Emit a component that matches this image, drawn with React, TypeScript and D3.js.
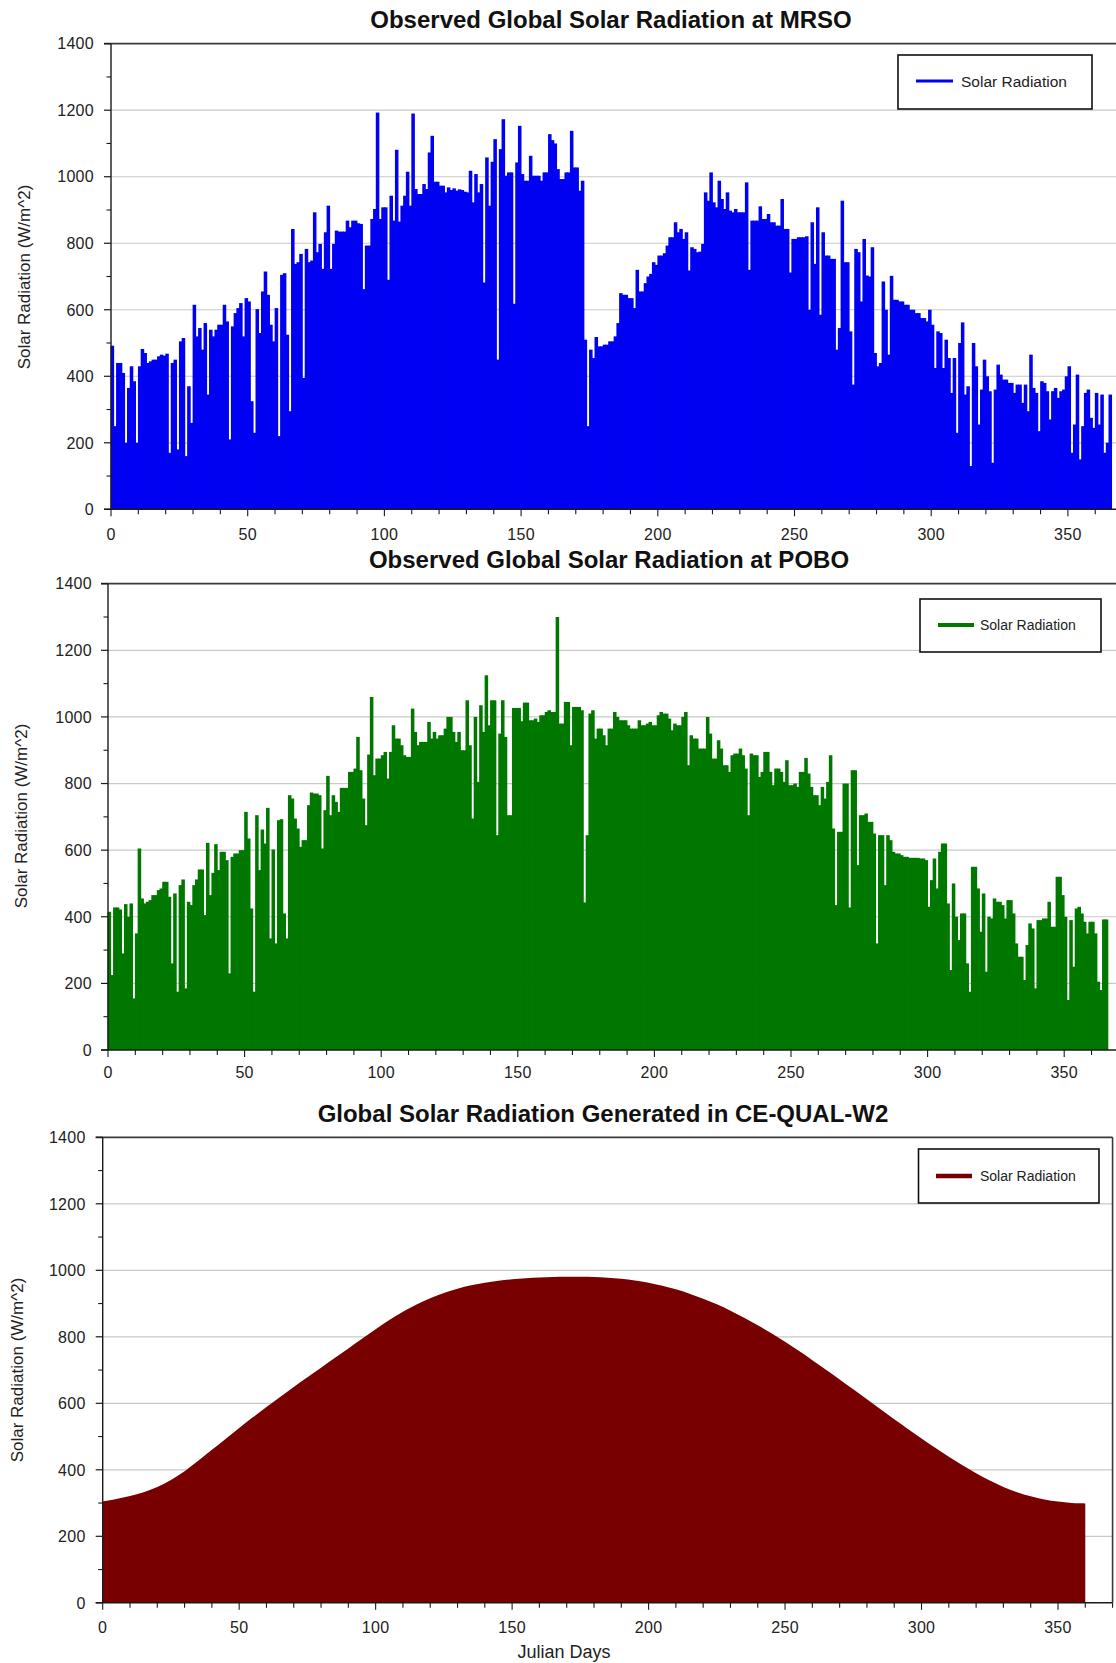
import React from 'react';
import * as d3 from 'd3';

// ---------------- DATA ----------------
// Daily peak global solar radiation, Julian day 0..365, station MRSO (W/m^2)
const MRSO_SOLAR: number[] = [
  492, 250, 440, 440, 410, 200, 365, 430, 385, 200,
  430, 482, 470, 440, 445, 450, 450, 460, 465, 462,
  468, 170, 440, 450, 180, 505, 515, 160, 370, 260,
  615, 520, 545, 480, 560, 345, 540, 520, 540, 555,
  555, 615, 565, 210, 550, 590, 605, 620, 520, 635,
  625, 325, 230, 602, 530, 655, 715, 645, 555, 505,
  605, 220, 705, 710, 525, 295, 843, 738, 743, 768,
  395, 783, 743, 748, 893, 773, 798, 723, 833, 913,
  723, 798, 838, 835, 835, 835, 868, 848, 868, 868,
  860, 858, 662, 793, 793, 873, 903, 1193, 873, 908,
  908, 690, 943, 868, 1081, 865, 913, 943, 1015, 913,
  1190, 963, 948, 948, 978, 963, 1073, 1123, 985, 985,
  973, 973, 953, 968, 960, 965, 958, 962, 960, 955,
  953, 1018, 923, 1008, 953, 978, 682, 1058, 913, 1045,
  1113, 450, 1083, 1173, 1003, 1013, 1013, 618, 1043, 1153,
  1008, 988, 988, 1063, 1003, 1003, 1003, 988, 1013, 1013,
  1128, 1110, 1100, 1023, 993, 993, 1013, 1013, 1138, 1028,
  1028, 958, 988, 510, 250, 480, 455, 518, 490, 490,
  495, 495, 505, 505, 520, 560, 650, 645, 645, 635,
  635, 605, 720, 655, 655, 680, 700, 708, 743, 735,
  763, 763, 770, 793, 818, 818, 863, 833, 843, 813,
  833, 718, 788, 783, 773, 775, 798, 953, 928, 1013,
  923, 908, 988, 933, 903, 953, 898, 893, 903, 893,
  893, 893, 983, 720, 868, 868, 868, 911, 873, 873,
  888, 863, 863, 853, 853, 933, 843, 843, 712, 813,
  813, 818, 818, 818, 821, 600, 863, 738, 908, 585,
  833, 763, 763, 753, 753, 480, 545, 928, 743, 743,
  535, 375, 783, 773, 625, 813, 703, 700, 788, 470,
  430, 440, 685, 600, 465, 702, 630, 630, 625, 625,
  615, 615, 600, 600, 590, 590, 575, 575, 565, 600,
  555, 425, 535, 530, 425, 510, 455, 350, 455, 230,
  500, 562, 345, 370, 130, 500, 430, 255, 360, 450,
  400, 355, 140, 360, 435, 405, 390, 390, 380, 380,
  350, 375, 375, 320, 375, 295, 465, 365, 350, 235,
  385, 380, 355, 270, 355, 365, 335, 355, 360, 400,
  430, 170, 255, 405, 150, 250, 350, 360, 275, 245,
  350, 255, 345, 170, 200, 345,
];

// Daily peak global solar radiation, Julian day 0..365, station POBO (W/m^2)
const POBO_SOLAR: number[] = [
  415, 225, 428, 428, 422, 290, 438, 400, 440, 155,
  350, 605, 455, 440, 445, 450, 465, 465, 480, 485,
  505, 505, 460, 260, 470, 175, 495, 512, 185, 445,
  435, 495, 512, 542, 542, 405, 622, 465, 532, 618,
  540, 595, 595, 570, 230, 580, 590, 590, 600, 600,
  715, 635, 425, 175, 705, 540, 662, 620, 727, 335,
  602, 320, 690, 693, 410, 335, 765, 755, 695, 665,
  610, 630, 630, 735, 773, 770, 770, 765, 605, 720,
  823, 705, 765, 745, 715, 787, 787, 787, 835, 835,
  845, 940, 840, 755, 675, 887, 1060, 825, 875, 875,
  885, 895, 815, 895, 975, 935, 935, 915, 885, 880,
  880, 1025, 955, 915, 925, 925, 925, 985, 935, 955,
  935, 945, 945, 965, 1000, 1000, 955, 925, 955, 900,
  900, 1050, 915, 695, 1000, 805, 1035, 955, 1125, 975,
  1050, 1050, 645, 950, 1050, 940, 705, 705, 1027, 1027,
  1027, 987, 1043, 1043, 990, 990, 995, 985, 1005, 1005,
  1015, 1020, 1015, 1015, 1300, 980, 980, 1045, 1045, 915,
  1030, 1030, 1030, 1020, 443, 645, 1010, 1020, 935, 965,
  965, 945, 915, 965, 965, 1015, 1000, 990, 990, 990,
  975, 965, 965, 965, 990, 975, 975, 980, 985, 975,
  975, 1005, 1015, 1010, 1010, 995, 960, 980, 975, 975,
  1000, 1015, 855, 945, 935, 935, 905, 905, 905, 1000,
  950, 875, 875, 930, 905, 855, 855, 835, 885, 890,
  890, 905, 885, 845, 705, 890, 885, 885, 820, 835,
  895, 895, 835, 795, 845, 845, 835, 805, 870, 795,
  795, 800, 790, 835, 835, 877, 830, 790, 765, 765,
  735, 790, 755, 805, 885, 665, 435, 655, 655, 800,
  800, 428, 840, 840, 555, 705, 705, 710, 685, 685,
  650, 320, 645, 645, 495, 645, 630, 595, 590, 590,
  585, 580, 580, 577, 577, 577, 577, 575, 575, 570,
  430, 510, 575, 485, 595, 620, 620, 440, 240, 500,
  400, 330, 410, 410, 260, 175, 550, 550, 485, 355,
  470, 235, 400, 395, 455, 445, 445, 435, 395, 450,
  450, 410, 320, 280, 280, 210, 315, 380, 365, 185,
  390, 390, 395, 395, 445, 370, 370, 520, 520, 465,
  400, 150, 390, 250, 425, 430, 410, 385, 350, 385,
  385, 350, 205, 180, 392, 392,
];

// CE-QUAL-W2 generated peak radiation, read every 5 Julian days
const W2_DAYS: number[] = [
  0, 5, 10, 15, 20, 25, 30, 35, 40, 45, 50, 55, 60, 65, 70, 75, 80, 85, 90, 95,
  100, 105, 110, 115, 120, 125, 130, 135, 140, 145, 150, 155, 160, 165, 170, 175,
  180, 185, 190, 195, 200, 205, 210, 215, 220, 225, 230, 235, 240, 245, 250, 255,
  260, 265, 270, 275, 280, 285, 290, 295, 300, 305, 310, 315, 320, 325, 330, 335,
  340, 345, 350, 355, 360,
];
const W2_SOLAR: number[] = [
  305, 312, 321, 332, 347, 369, 395, 427, 460, 493, 526, 558, 589, 619, 649, 678, 707, 736, 765, 794,
  823, 851, 876, 898, 916, 932, 945, 955, 963, 969, 973, 976, 978, 980, 981, 981,
  980, 978, 975, 970, 963, 954, 943, 930, 915, 898, 879, 858, 835, 811, 785, 758,
  730, 701, 672, 642, 612, 582, 552, 523, 494, 466, 439, 413, 389, 367, 348, 332,
  320, 310, 304, 300, 299,
];

const Y_TICKS: number[] = [0, 200, 400, 600, 800, 1000, 1200, 1400];
const Y_MINOR_TICKS: number[] = [100, 300, 500, 700, 900, 1100, 1300];
const X_TICKS: number[] = [0, 50, 100, 150, 200, 250, 300, 350];
const X_MINOR_STEP = 10;
const X_DOMAIN_MAX = 370;
const Y_DOMAIN_MAX = 1400;

const TITLES: string[] = [
  'Observed Global Solar Radiation at MRSO',
  'Observed Global Solar Radiation at POBO',
  'Global Solar Radiation Generated in CE-QUAL-W2',
];
const LEGEND_LABEL = 'Solar Radiation';
const Y_LABEL = 'Solar Radiation (W/m^2)';
const X_LABEL = 'Julian Days';

// ---------------- LAYOUT / STYLE ----------------
const FONT = '"Liberation Sans", Arial, Helvetica, sans-serif';
const W = 1116;
const H = 1663;

type Legend = { x: number; y: number; w: number; h: number; lx1: number; lx2: number; ly: number; tx: number; fs: number; lw: number };
type Panel = {
  x0: number; k: number; yTop: number; yBottom: number; color: string;
  titleX: number; titleY: number; legend: Legend; yLabelX: number; yLabelY: number;
  xLabelDy: number; rightFrame: boolean; tickRightPad: number;
};

const PANELS: Panel[] = [
  {
    x0: 111, k: 2.734, yTop: 43.7, yBottom: 509.3, color: '#0000f2',
    titleX: 611, titleY: 27.5,
    legend: { x: 898, y: 55, w: 194, h: 54, lx1: 916, lx2: 953, ly: 81, tx: 961, fs: 15.5, lw: 3 },
    yLabelX: 30, yLabelY: 277, xLabelDy: 31, rightFrame: false, tickRightPad: 17,
  },
  {
    x0: 108, k: 2.732, yTop: 583.7, yBottom: 1050, color: '#007800',
    titleX: 609, titleY: 567.5,
    legend: { x: 920, y: 599, w: 181, h: 53, lx1: 938, lx2: 974, ly: 625, tx: 980, fs: 14, lw: 4 },
    yLabelX: 27, yLabelY: 816, xLabelDy: 28, rightFrame: false, tickRightPad: 16,
  },
  {
    x0: 102.7, k: 2.7294, yTop: 1137.3, yBottom: 1602.8, color: '#780000',
    titleX: 603, titleY: 1121.5,
    legend: { x: 918.5, y: 1149, w: 180.5, h: 54, lx1: 936, lx2: 972, ly: 1176, tx: 980, fs: 14, lw: 4.5 },
    yLabelX: 23, yLabelY: 1370, xLabelDy: 30, rightFrame: true, tickRightPad: 17,
  },
];

function ChartPanel({ p, title, daily, smooth }: { p: Panel; title: string; daily?: number[]; smooth?: { days: number[]; values: number[] } }) {
  const xs = d3.scaleLinear().domain([0, X_DOMAIN_MAX]).range([p.x0, p.x0 + X_DOMAIN_MAX * p.k]);
  const ys = d3.scaleLinear().domain([0, Y_DOMAIN_MAX]).range([p.yBottom, p.yTop]);
  const xRight = Math.min(W + 2, xs(X_DOMAIN_MAX));
  const minorX = d3.range(0, X_DOMAIN_MAX + 1, X_MINOR_STEP);

  let areaPath = '';
  if (smooth) {
    const pts = smooth.days.map((d, i) => [d, smooth.values[i]] as [number, number]);
    areaPath = d3.area<[number, number]>()
      .x((d) => xs(d[0]))
      .y0(ys(0))
      .y1((d) => ys(d[1]))
      .curve(d3.curveBasis)(pts) || '';
  }

  const tickFs = 16;
  const gridColor = '#c9c9c9';
  const axisColor = '#1a1a1a';

  return (
    <g>
      {/* gridlines */}
      {Y_TICKS.filter((t) => t > 0 && t < Y_DOMAIN_MAX).map((t) => (
        <line key={'g' + t} x1={p.x0} x2={xRight} y1={ys(t)} y2={ys(t)} stroke={gridColor} strokeWidth={1.2} />
      ))}

      {/* data */}
      {daily && daily.map((v, d) => {
        const x1 = xs(d);
        const x2 = xs(d + 1);
        return (
          <rect key={'b' + d} x={x1 - 0.4} width={x2 - x1 + 0.8} y={ys(v)} height={ys(0) - ys(v)} fill={p.color} />
        );
      })}
      {smooth && <path d={areaPath} fill={p.color} />}

      {/* frame */}
      <line x1={p.x0 - 7} x2={xRight} y1={p.yTop} y2={p.yTop} stroke="#3a3a3a" strokeWidth={1.8} />
      <line x1={p.x0} x2={p.x0} y1={p.yTop} y2={p.yBottom} stroke={axisColor} strokeWidth={1.4} />
      <line x1={p.x0 - 7} x2={xRight} y1={p.yBottom} y2={p.yBottom} stroke={axisColor} strokeWidth={1.4} />
      {p.rightFrame && (
        <line x1={xRight} x2={xRight} y1={p.yTop} y2={p.yBottom} stroke="#3a3a3a" strokeWidth={1.6} />
      )}

      {/* y ticks */}
      {Y_TICKS.map((t) => (
        <g key={'yt' + t}>
          <line x1={p.x0 - 7} x2={p.x0} y1={ys(t)} y2={ys(t)} stroke={axisColor} strokeWidth={1.2} />
          <text x={p.x0 - p.tickRightPad} y={ys(t) + tickFs * 0.36} textAnchor="end" fontSize={tickFs} fill="#222" fontFamily={FONT} letterSpacing={0.3}>
            {t}
          </text>
        </g>
      ))}
      {Y_MINOR_TICKS.map((t) => (
        <line key={'ym' + t} x1={p.x0 - 4.5} x2={p.x0} y1={ys(t)} y2={ys(t)} stroke={axisColor} strokeWidth={1.1} />
      ))}

      {/* x ticks */}
      {minorX.map((t) => (
        <line key={'xm' + t} x1={xs(t)} x2={xs(t)} y1={p.yBottom} y2={p.yBottom + (t % 50 === 0 ? 7 : 5)} stroke={axisColor} strokeWidth={1.1} />
      ))}
      {X_TICKS.map((t) => (
        <text key={'xl' + t} x={xs(t)} y={p.yBottom + p.xLabelDy} textAnchor="middle" fontSize={tickFs} fill="#222" fontFamily={FONT} letterSpacing={0.3}>
          {t}
        </text>
      ))}

      {/* title */}
      <text x={p.titleX} y={p.titleY} textAnchor="middle" fontSize={24} fontWeight="bold" fill="#111" fontFamily={FONT}>
        {title}
      </text>

      {/* y label */}
      <text
        transform={`translate(${p.yLabelX},${p.yLabelY}) rotate(-90)`}
        textAnchor="middle" fontSize={17} fill="#222" fontFamily={FONT}
      >
        {Y_LABEL}
      </text>

      {/* legend */}
      <rect x={p.legend.x} y={p.legend.y} width={p.legend.w} height={p.legend.h} fill="#fff" stroke="#111" strokeWidth={1.6} />
      <line x1={p.legend.lx1} x2={p.legend.lx2} y1={p.legend.ly} y2={p.legend.ly} stroke={p.color} strokeWidth={p.legend.lw} />
      <text x={p.legend.tx} y={p.legend.ly + p.legend.fs * 0.36} fontSize={p.legend.fs} fill="#222" fontFamily={FONT}>
        {LEGEND_LABEL}
      </text>
    </g>
  );
}

export default function App() {
  return (
    <svg
      width={W}
      height={H}
      viewBox={`0 0 ${W} ${H}`}
      style={{ position: 'absolute', left: 0, top: 0, background: '#fff' }}
      xmlns="http://www.w3.org/2000/svg"
    >
      <rect x={0} y={0} width={W} height={H} fill="#fff" />
      <ChartPanel p={PANELS[0]} title={TITLES[0]} daily={MRSO_SOLAR} />
      <ChartPanel p={PANELS[1]} title={TITLES[1]} daily={POBO_SOLAR} />
      <ChartPanel p={PANELS[2]} title={TITLES[2]} smooth={{ days: W2_DAYS, values: W2_SOLAR }} />
      <text x={564} y={1658} textAnchor="middle" fontSize={18} fill="#222" fontFamily={FONT}>
        {X_LABEL}
      </text>
    </svg>
  );
}
